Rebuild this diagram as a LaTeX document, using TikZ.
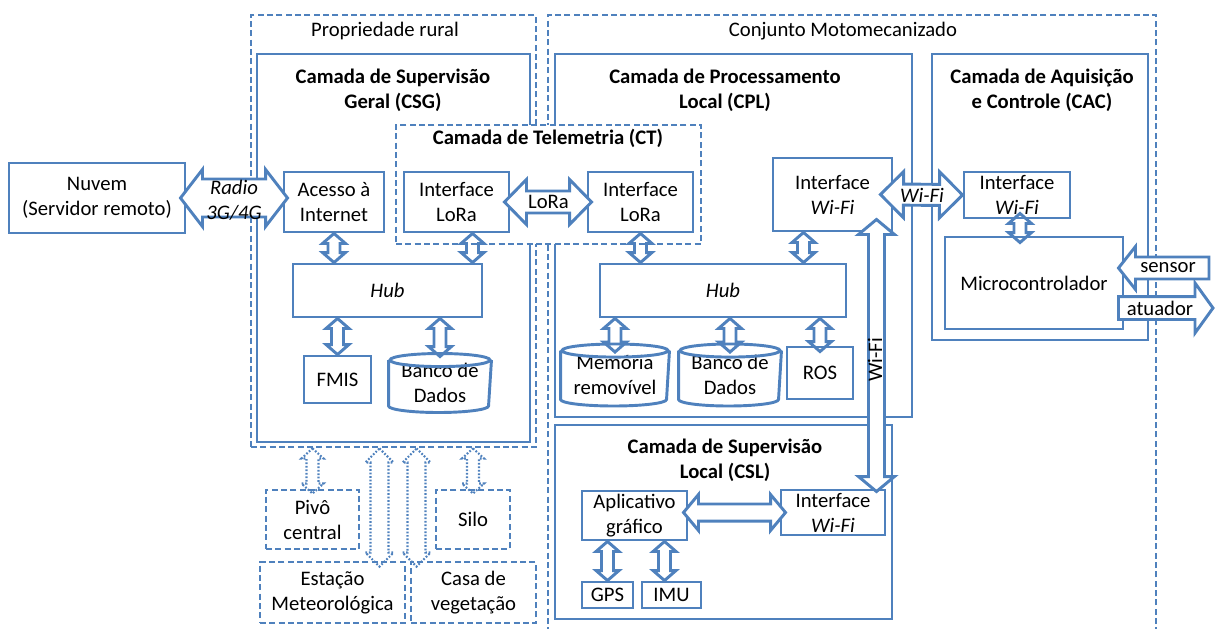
\documentclass[tikz,border=0pt]{standalone}
\usepackage{fontspec}
\setmainfont{Carlito}
\usetikzlibrary{calc,fit,positioning}
\definecolor{azul}{HTML}{4F81BD}

\newcommand\drum[2]{%
  \draw[draw=azul] ($(#1.north west)+(0,6.5)$) -- ($(#1.south west)+(0,-6.5)$)
    arc[start angle=180,end angle=360,x radius=#2,y radius=4.9pt]
    -- ($(#1.north east)+(0,6.5)$)
    ($(#1.north)+(0,6.5)$) ellipse[x radius=#2,y radius=4.9pt];}

\begin{document}
\begin{tikzpicture}[x=0.75pt,y=-0.75pt,line width=2.2pt,
  font=\fontsize{15.5}{18.8}\selectfont,
  every node/.style={align=center,inner sep=0pt},
  frame/.style={draw=azul,fit={#1}},
  dframe/.style={frame={#1},dash pattern=on 4.5pt off 2.5pt},
  sz/.style 2 args={minimum width=#1*0.75pt,minimum height=#2*0.75pt},
  box/.style={draw=azul},
  dbox/.style={draw=azul,dash pattern=on 4.5pt off 2.5pt},
  title/.style={font=\fontsize{15.5}{18.8}\selectfont\bfseries},
  fat/.style n args={3}{draw=azul,fill=white,to path={
    let \p1=(\tikztostart),\p2=(\tikztotarget),\n1={atan2(\y2-\y1,\x2-\x1)} in
    (\p1) -- ($(\p1)+(\n1:#3)+(\n1+90:#2)$) -- ($(\p1)+(\n1:#3)+(\n1+90:#1)$)
    -- ($(\p2)-(\n1:#3)+(\n1+90:#1)$) -- ($(\p2)-(\n1:#3)+(\n1+90:#2)$) -- (\p2)
    -- ($(\p2)-(\n1:#3)-(\n1+90:#2)$) -- ($(\p2)-(\n1:#3)-(\n1+90:#1)$)
    -- ($(\p1)+(\n1:#3)-(\n1+90:#1)$) -- ($(\p1)+(\n1:#3)-(\n1+90:#2)$) -- cycle}},
  one/.style n args={3}{draw=azul,fill=white,to path={
    let \p1=(\tikztostart),\p2=(\tikztotarget),\n1={atan2(\y2-\y1,\x2-\x1)} in
    ($(\p1)+(\n1+90:#1)$) -- ($(\p2)-(\n1:#3)+(\n1+90:#1)$) -- ($(\p2)-(\n1:#3)+(\n1+90:#2)$)
    -- (\p2) -- ($(\p2)-(\n1:#3)-(\n1+90:#2)$) -- ($(\p2)-(\n1:#3)-(\n1+90:#1)$)
    -- ($(\p1)-(\n1+90:#1)$) -- cycle}},
  link/.style={fat={4.5pt}{8.6pt}{7.5pt}},
  dot/.style={line width=1.6pt,dash pattern=on 1.3pt off 1.3pt}]

  \path[use as bounding box,clip] (0,0) rectangle (1216,628);

  \node[dframe={(251,15)(536,447)}] (prop) {};
  \node[frame={(257,54)(530,442)}] (csg) {};
  \node[dframe={(548,15)(1156,660)}] (conj) {};
  \node[frame={(555,54)(912,417)}] (cpl) {};
  \node[frame={(932,54)(1148,340)}] (cac) {};
  \node[frame={(555,425)(892,619)}] (csl) {};
  \node[dframe={(396,125)(701,244)},fill=white] (ct) {};

  \node (tprop) at (385,31) {Propriedade rural};
  \node (tconj) at (843,31) {Conjunto Motomecanizado};
  \node[title] (tcsg) at (393,90) {Camada de Supervisão\\Geral (CSG)};
  \node[title] (tct) at (548,138) {Camada de Telemetria (CT)};
  \node[title] (tcpl) at (725,90) {Camada de Processamento\\Local (CPL)};
  \node[title] (tcac) at (1042,90) {Camada de Aquisição\\e Controle (CAC)};
  \node[title] (tcsl) at (725,460) {Camada de Supervisão\\Local (CSL)};

  \node[box,sz={176}{70}] (nuv) at (97,198) {Nuvem\\(Servidor remoto)};
  \node[box,sz={100}{60}] (acs) at (334,202) {Acesso à\\Internet};
  \node[box,sz={105}{60}] (lr1) at (456.5,202) {Interface\\LoRa};
  \node[box,sz={105}{60}] (lr2) at (640.5,202) {Interface\\LoRa};
  \node[box,sz={189}{53}] (hub1) at (387.5,290.5) {\textit{Hub}};
  \node[box,sz={67}{47}] (fmis) at (337.5,379.5) {FMIS};
  \node[sz={100}{56}] (bd1) at (440,383) {Banco de\\Dados};
  \node[dbox,sz={93}{59}] (pivo) at (312.5,519.5) {Pivô\\central};
  \node[dbox,sz={74}{59}] (silo) at (473,519.5) {Silo};
  \node[dbox,sz={145}{61}] (est) at (332.5,592.5) {Estação\\Meteorológica};
  \node[dbox,sz={125}{61}] (casa) at (473.5,592.5) {Casa de\\vegetação};

  \node[box,sz={119}{73}] (wf1) at (832.5,194.5) {Interface\\\textit{Wi-Fi}};
  \node[box,sz={246}{53}] (hub2) at (723,290.5) {\textit{Hub}};
  \node[sz={106}{59}] (mem) at (615,375) {Memória\\removível};
  \node[sz={100}{59}] (bd2) at (730,375) {Banco de\\Dados};
  \node[box,sz={66}{52}] (ros) at (820,373) {ROS};
  \node[box,sz={106}{46}] (wf2) at (1017,195) {Interface\\\textit{Wi-Fi}};
  \node[box,sz={178}{92}] (mic) at (1034,283) {Microcontrolador};
  \node[box,sz={105}{49}] (app) at (634.5,515.5) {Aplicativo\\gráfico};
  \node[box,sz={104}{45}] (wf3) at (833,512.5) {Interface\\\textit{Wi-Fi}};
  \node[box,sz={51}{26}] (gps) at (607.5,595) {GPS};
  \node[box,sz={59}{26}] (imu) at (671.5,595) {IMU};

  \drum{bd1}{37.5pt}
  \drum{mem}{39.75pt}
  \drum{bd2}{37.5pt}

  \draw[fat={14.25pt}{21.4pt}{16.5pt}] ($(nuv.east)+(-6,0)$) to ($(nuv.east -| acs.west)+(5,0)$);
  \draw[fat={8.25pt}{16.9pt}{16.5pt}] ($(lr1.east)+(-6,0)$) to ($(lr2.west)+(5,0)$);
  \draw[fat={7.9pt}{17.25pt}{17.25pt}] ($(wf1.east)+(-13,0)$) to (wf2.west);
  \draw[fat={6pt}{13.5pt}{11.25pt}] ($(wf1.south east)+(-17,-13)$) to ($(wf3.north east)+(-10,3)$);
  \draw[fat={6.4pt}{13.5pt}{11.25pt}] ($(app.east)+(-5,-3)$) to ($(wf3.west)+(6,0)$);

  \path[link]
    (acs.south) edge (acs.south |- hub1.north)
    ($(lr1.south)+(16,0)$) edge ($(lr1.south |- hub1.north)+(16,0)$)
    (fmis.north |- hub1.south) edge (fmis.north)
    (bd1.north |- hub1.south) edge ($(bd1.north)+(0,3)$)
    (lr2.south) edge (lr2.south |- hub2.north)
    ($(wf1.south)+(-29,0)$) edge ($(wf1.south |- hub2.north)+(-29,0)$)
    (mem.north |- hub2.south) edge ($(mem.north)+(0,8)$)
    (bd2.north |- hub2.south) edge ($(bd2.north)+(0,8)$)
    (ros.north |- hub2.south) edge ($(ros.north)+(0,6)$)
    ($(wf2.south)+(3,-6)$) edge ($(wf2.south |- mic.north)+(3,7)$)
    (gps.north |- app.south) edge (gps.north)
    ($(imu.north |- app.south)+(-7,0)$) edge ($(imu.north)+(-7,0)$);

  \path[dot,fat={4.5pt}{8.25pt}{7.5pt}]
    (pivo.north |- prop.south) edge ($(pivo.north)+(0,5)$)
    (silo.north |- prop.south) edge ($(silo.north)+(0,5)$);
  \path[dot,fat={6.75pt}{10.5pt}{10.5pt}]
    ($(est.north east |- prop.south)+(-27,0)$) edge ($(est.north east)+(-27,6)$)
    ($(casa.north west |- prop.south)+(7,0)$) edge ($(casa.north west)+(7,6)$);

  \coordinate (sen) at (1209,268);
  \coordinate (atu) at (1213,308);
  \draw[one={8.25pt}{16.1pt}{12.75pt}] (sen) to ($(mic.east |- sen)+(-6,0)$);
  \draw[one={8.6pt}{18.75pt}{13.5pt}] ($(mic.east |- atu)+(-6,0)$) to (atu);

  \node (lrad) at (234,200) {\textit{Radio}\\\textit{3G/4G}};
  \node (llora) at ($(lr1.east)!0.5!(lr2.west)$) {LoRa};
  \node (lwh) at (922,195) {\textit{Wi-Fi}};
  \node[rotate=90] (lwv) at (875,360) {Wi-Fi};
  \node (lsen) at (1168,268) {sensor};
  \node (latu) at (1160,308) {atuador};

\end{tikzpicture}
\end{document}
